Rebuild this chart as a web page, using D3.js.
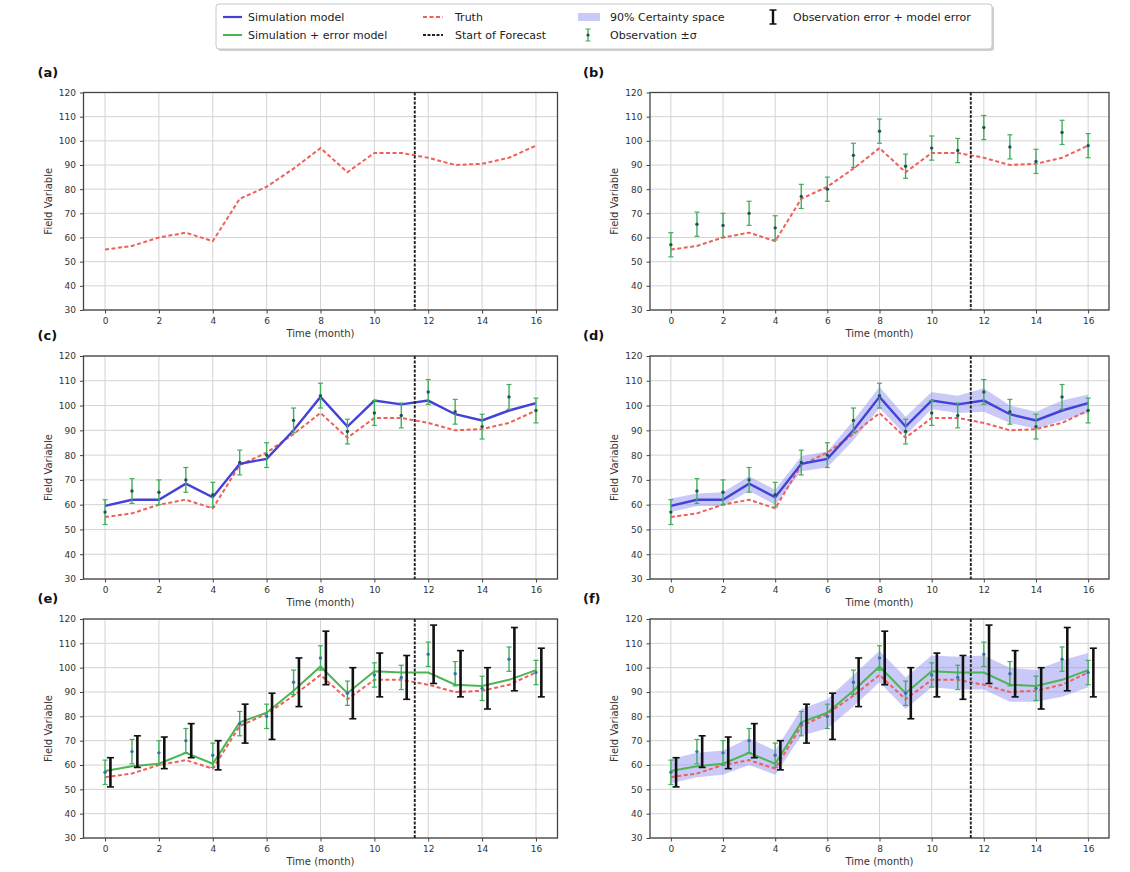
<!DOCTYPE html>
<meta charset="utf-8">
<script src="https://d3js.org/d3.v7.min.js"></script>
<style>
	body{
		margin:0;
		background:#fff;
		font-family:'DejaVu Sans', sans-serif;
	}
</style>
<div id="chart"></div>
<script>

// ---- data ----
var months = [0,1,2,3,4,5,6,7,8,9,10,11,12,13,14,15,16]
var truth = [55,56.5,60,62,58.5,76,81,88.5,97,87,95,95,93,90,90.5,93,98]
var obs = [57,65.5,65,70,64,77,80,94,104,89.5,97,96,105.5,97.5,91.5,103.5,98]
var obsSigma = [5,5,5,5,5,5,5,5,5,5,5,5,5,5,5,5,5]
var sim = [59.5,62,62,68.5,63,76.5,78.5,90,103.5,91.5,102,100.5,102,96.5,94,98,101]
var simLow = [57,59.5,59.5,65.5,60,73.5,75,86,99,88,98.5,97,97.5,93,90.5,94,97]
var simHigh = [62.5,64.5,65,71.5,66,79.5,81.5,94,107.5,95.5,105.5,104,107,100,97.5,102,104.5]
var errModel = [57.5,59.5,60.5,65,60.5,77.5,81.5,90.5,100.5,89.5,98.5,98,98,93,92.5,95,99]
var errLow = [52.5,55,56,60,56,72,75,84,94,83,92,91,91,86,86,88,92]
var errHigh = [62.5,65,66,71,66,83,87,97,107,96,105,104.5,105,100,99,103,106]
var totalErr = [6,6.5,6.5,7,6,8,9.5,10,11,10.5,9,9,12,9.5,8.5,13,10]
var forecastStart = 11.5
var xTicks = [0,2,4,6,8,10,12,14,16]
var yTicks = [30,40,50,60,70,80,90,100,110,120]

var blue = "#4242d6"
var green = "#4cb552"
var red = "#f0605a"
var bandColor = "#8a8af0"
var obsColor = "#3fae5a"

var W = 1130, H = 872
var svg = d3.select("#chart").append("svg").attr("width",W).attr("height",H)

var colLeft = [83.5, 650]
var colWidth = [474, 459]
var rowTop = [92.5, 356, 619]
var rowHeight = [217.5, 223, 219]

var panels = [
	{label:"(a)", col:0, row:0, band:null, line:null, obs:false, total:false},
	{label:"(b)", col:1, row:0, band:null, line:null, obs:true, total:false},
	{label:"(c)", col:0, row:1, band:null, line:"sim", obs:true, total:false},
	{label:"(d)", col:1, row:1, band:"sim", line:"sim", obs:true, total:false},
	{label:"(e)", col:0, row:2, band:null, line:"err", obs:true, total:true},
	{label:"(f)", col:1, row:2, band:"err", line:"err", obs:true, total:true}
]

panels.forEach(function(p){ drawPanel(p) })
drawLegend()

function drawPanel(p){
	var left = colLeft[p.col], top = rowTop[p.row]
	var w = colWidth[p.col], h = rowHeight[p.row]
	var x = d3.scaleLinear().domain([-0.8,16.8]).range([0,w])
	var y = d3.scaleLinear().domain([30,120]).range([h,0])

	var g = svg.append("g").attr("transform","translate("+left+","+top+")")

	// grid
	g.append("g").selectAll("line").data(xTicks).join("line")
		.attr("x1",d=>x(d)).attr("x2",d=>x(d)).attr("y1",0).attr("y2",h)
		.attr("stroke","#d4d4d4").attr("stroke-width",1)
	g.append("g").selectAll("line").data(yTicks).join("line")
		.attr("y1",d=>y(d)).attr("y2",d=>y(d)).attr("x1",0).attr("x2",w)
		.attr("stroke","#d4d4d4").attr("stroke-width",1)

	// axes
	var xAxis = d3.axisBottom(x).tickValues(xTicks).tickSize(3.5).tickPadding(4)
	var yAxis = d3.axisLeft(y).tickValues(yTicks).tickSize(3.5).tickPadding(4)
	var gx = g.append("g").attr("transform","translate(0,"+h+")").call(xAxis)
	var gy = g.append("g").call(yAxis)
	;[gx,gy].forEach(function(a){
		a.select(".domain").remove()
		a.selectAll("line").attr("stroke","#444")
		a.selectAll("text").attr("fill","#333").style("font-size","9px").style("font-family","'DejaVu Sans', sans-serif")
	})
	g.append("rect").attr("width",w).attr("height",h).attr("fill","none")
		.attr("stroke","#444").attr("stroke-width",1.3)

	// band
	if(p.band){
		var lo = p.band=="sim" ? simLow : errLow
		var hi = p.band=="sim" ? simHigh : errHigh
		var area = d3.area().x((d,i)=>x(months[i])).y0((d,i)=>y(lo[i])).y1((d,i)=>y(hi[i]))
		g.append("path").datum(months).attr("d",area)
			.attr("fill",bandColor).attr("fill-opacity",0.45)
	}

	// truth
	var line = d3.line().x((d,i)=>x(months[i])).y(d=>y(d))
	g.append("path").datum(truth).attr("d",line)
		.attr("fill","none").attr("stroke",red).attr("stroke-width",2)
		.attr("stroke-dasharray","4,2.5")

	// model line
	if(p.line){
		var vals = p.line=="sim" ? sim : errModel
		g.append("path").datum(vals).attr("d",line)
			.attr("fill","none").attr("stroke",p.line=="sim" ? blue : green)
			.attr("stroke-width",p.line=="sim" ? 2.4 : 2)
	}

	// observations +- sigma
	if(p.obs){
		var og = g.append("g")
		months.forEach(function(m,i){
			var cx = x(m)
			var y1 = y(obs[i]+obsSigma[i]), y2 = y(obs[i]-obsSigma[i])
			og.append("line").attr("x1",cx).attr("x2",cx).attr("y1",y1).attr("y2",y2)
				.attr("stroke",obsColor).attr("stroke-width",1.4)
			og.append("line").attr("x1",cx-2.5).attr("x2",cx+2.5).attr("y1",y1).attr("y2",y1)
				.attr("stroke",obsColor).attr("stroke-width",1.2)
			og.append("line").attr("x1",cx-2.5).attr("x2",cx+2.5).attr("y1",y2).attr("y2",y2)
				.attr("stroke",obsColor).attr("stroke-width",1.2)
			og.append("circle").attr("cx",cx).attr("cy",y(obs[i])).attr("r",1.7)
				.attr("fill",p.total ? "#3a6fb0" : "#24505a")
		})
	}

	// observation error + model error
	if(p.total){
		var tg = g.append("g")
		months.forEach(function(m,i){
			var cx = x(m+0.2)
			var y1 = y(obs[i]+totalErr[i]), y2 = y(obs[i]-totalErr[i])
			tg.append("line").attr("x1",cx).attr("x2",cx).attr("y1",y1).attr("y2",y2)
				.attr("stroke","#111").attr("stroke-width",2.6)
			tg.append("line").attr("x1",cx-3.5).attr("x2",cx+3.5).attr("y1",y1).attr("y2",y1)
				.attr("stroke","#111").attr("stroke-width",1.6)
			tg.append("line").attr("x1",cx-3.5).attr("x2",cx+3.5).attr("y1",y2).attr("y2",y2)
				.attr("stroke","#111").attr("stroke-width",1.6)
		})
	}

	// start of forecast
	g.append("line").attr("x1",x(forecastStart)).attr("x2",x(forecastStart))
		.attr("y1",0).attr("y2",h)
		.attr("stroke","#222").attr("stroke-width",1.9).attr("stroke-dasharray","3,1.5")

	// labels
	g.append("text").text("Time (month)")
		.attr("x",w/2).attr("y",h+27).attr("text-anchor","middle")
		.style("font-size","10px").attr("fill","#333")
	g.append("text").text("Field Variable")
		.attr("transform","translate("+(-32)+","+(h/2)+") rotate(-90)")
		.attr("text-anchor","middle").style("font-size","10px").attr("fill","#333")
	g.append("text").text(p.label)
		.attr("x",p.col==0 ? -46 : -67).attr("y",-16)
		.style("font-size","13px").style("font-weight","bold").attr("fill","#111")
}

function drawLegend(){
	var lg = svg.append("g")
	lg.append("rect").attr("x",218).attr("y",6).attr("width",776).attr("height",45)
		.attr("rx",3).attr("fill","#cfcfcf")
	lg.append("rect").attr("x",216).attr("y",4).attr("width",776).attr("height",45)
		.attr("rx",3).attr("fill","#fff").attr("stroke","#c8c8c8").attr("stroke-width",1)

	var r1 = 17, r2 = 35
	function txt(s,xx,yy){
		lg.append("text").text(s).attr("x",xx).attr("y",yy+4)
			.style("font-size","11px").attr("fill","#222")
	}
	// simulation model
	lg.append("line").attr("x1",223).attr("x2",242).attr("y1",r1).attr("y2",r1)
		.attr("stroke",blue).attr("stroke-width",2.2)
	txt("Simulation model",248,r1)
	lg.append("line").attr("x1",223).attr("x2",242).attr("y1",r2).attr("y2",r2)
		.attr("stroke",green).attr("stroke-width",2)
	txt("Simulation + error model",248,r2)
	// truth / forecast
	lg.append("line").attr("x1",423).attr("x2",443).attr("y1",r1).attr("y2",r1)
		.attr("stroke",red).attr("stroke-width",2).attr("stroke-dasharray","4,2.5")
	txt("Truth",455,r1)
	lg.append("line").attr("x1",423).attr("x2",443).attr("y1",r2).attr("y2",r2)
		.attr("stroke","#222").attr("stroke-width",1.8).attr("stroke-dasharray","3,1.5")
	txt("Start of Forecast",455,r2)
	// band
	lg.append("rect").attr("x",578).attr("y",r1-4).attr("width",22).attr("height",8)
		.attr("fill",bandColor).attr("fill-opacity",0.45)
	txt("90% Certainty space",610,r1)
	// observation +- sigma
	var ox = 588
	lg.append("line").attr("x1",ox).attr("x2",ox).attr("y1",r2-6).attr("y2",r2+6)
		.attr("stroke",obsColor).attr("stroke-width",1.4)
	lg.append("line").attr("x1",ox-2.5).attr("x2",ox+2.5).attr("y1",r2-6).attr("y2",r2-6)
		.attr("stroke",obsColor)
	lg.append("line").attr("x1",ox-2.5).attr("x2",ox+2.5).attr("y1",r2+6).attr("y2",r2+6)
		.attr("stroke",obsColor)
	lg.append("circle").attr("cx",ox).attr("cy",r2).attr("r",1.6).attr("fill","#24505a")
	txt("Observation \u00b1\u03c3",610,r2)
	// total error
	var bx = 773
	lg.append("line").attr("x1",bx).attr("x2",bx).attr("y1",r1-7).attr("y2",r1+7)
		.attr("stroke","#111").attr("stroke-width",2.4)
	lg.append("line").attr("x1",bx-3.5).attr("x2",bx+3.5).attr("y1",r1-7).attr("y2",r1-7)
		.attr("stroke","#111").attr("stroke-width",1.5)
	lg.append("line").attr("x1",bx-3.5).attr("x2",bx+3.5).attr("y1",r1+7).attr("y2",r1+7)
		.attr("stroke","#111").attr("stroke-width",1.5)
	txt("Observation error + model error",793,r1)
}
</script>
